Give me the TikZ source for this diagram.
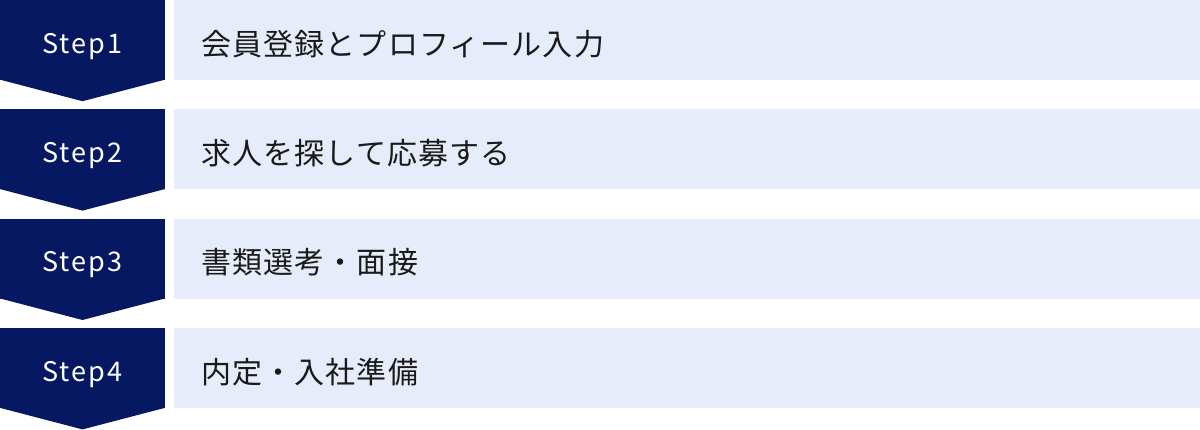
\documentclass[tikz,border=0pt]{standalone}
\usepackage{fontspec}
\usepackage{xcolor}
\setmainfont{Noto Sans CJK JP}
\usetikzlibrary{calc,chains,positioning}

\definecolor{stepnavy}{HTML}{061862}
\definecolor{tasklight}{HTML}{E6ECF9}
\definecolor{taskink}{HTML}{1A1A1A}

\begin{document}
\begin{tikzpicture}[stepbox/.style={rectangle, fill=stepnavy, text=white,
    minimum width=165pt, minimum height=80pt, inner ysep=0pt,
    text height=53pt, text depth=27pt,
    font=\fontsize{27}{30}\selectfont\addfontfeature{LetterSpace=8}},
  taskbox/.style={rectangle, fill=tasklight, text=taskink, anchor=west,
    minimum width=1026pt, minimum height=80pt, inner xsep=27pt, inner ysep=0pt,
    text width=972pt, align=left, text height=55pt, text depth=25pt,
    font=\fontsize{30}{32}\selectfont\addfontfeature{LetterSpace=3.7}},
  start chain=going below, node distance=29pt]

  \useasboundingbox (0,0) rectangle (1200pt,-429pt);

  \node[stepbox,on chain] at (82.5pt,-40pt) (S1) {Step1};
  \node[stepbox,on chain] (S2) {Step2};
  \node[stepbox,on chain] (S3) {Step3};
  \node[stepbox,on chain] (S4) {Step4};
  \foreach \s in {S1,S2,S3,S4}
    \fill[stepnavy] ($(\s.south west)+(0,0.6pt)$) -- ($(\s.south east)+(0,0.6pt)$)
      -- ($(\s.south)+(0,-21pt)$) -- cycle;

  \node[taskbox,right=9pt of S1] (T1) {会員登録とプロフィール入力};
  \node[taskbox,right=9pt of S2] (T2) {求人を探して応募する};
  \node[taskbox,right=9pt of S3] (T3) {書類選考・面接};
  \node[taskbox,right=9pt of S4] (T4) {内定・入社準備};
\end{tikzpicture}
\end{document}
